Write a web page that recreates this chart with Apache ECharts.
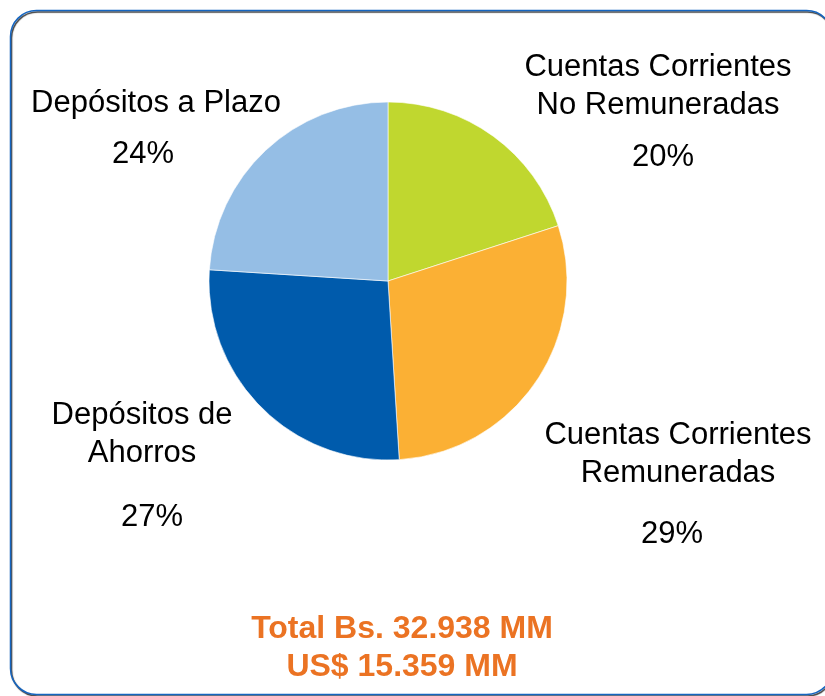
<!DOCTYPE html>
<html>
<head>
<meta charset="utf-8">
<script src="https://cdn.jsdelivr.net/npm/echarts@6/dist/echarts.min.js"></script>
<style>
  html, body { margin: 0; padding: 0; background: #fff; }
  #chart { width: 825px; height: 696px; }
</style>
</head>
<body>
<div id="chart"></div>
<script>
// datos del grafico
var categories = ['Cuentas Corrientes\nNo Remuneradas', 'Cuentas Corrientes\nRemuneradas', 'Depósitos de\nAhorros', 'Depósitos a Plazo']
var shares = [20, 29, 27, 24]
var totalLines = ['Total Bs. 32.938 MM', 'US$ 15.359 MM']

var colors = ['#C0D72F', '#FBB034', '#005BAC', '#95BEE5']
// posicion de cada etiqueta (centro x, arriba y), espacio antes del % y desplazamiento x del %
var labelPos = [[658, 45, 28, 5], [678, 408, 46, -6], [142, 387, 52, 10], [156, 81, 26, -13]]

var chart = echarts.init(document.getElementById('chart'))

var data = categories.map(function (c, i) {
    var dx = labelPos[i][3]
    return {
        name: c,
        value: shares[i],
        itemStyle: { color: colors[i] },
        label: {
            rich: {
                n: { fontSize: 31, lineHeight: 38, color: '#000', fontFamily: 'Liberation Sans, Arial' },
                p: {
                    fontSize: 31, lineHeight: 38, color: '#000', fontFamily: 'Liberation Sans, Arial',
                    padding: [labelPos[i][2], dx < 0 ? -2 * dx : 0, 0, dx > 0 ? 2 * dx : 0]
                }
            }
        }
    }
})

chart.setOption({
    animation: false,
    title: {
        text: totalLines.join('\n'),
        left: 397,
        top: 605,
        textAlign: 'center',
        textStyle: {
            color: '#EB7323',
            fontSize: 32,
            fontWeight: 'bold',
            lineHeight: 38,
            fontFamily: 'Liberation Sans, Arial'
        }
    },
    graphic: [{
        type: 'rect',
        shape: { x: 10.5, y: 10.5, width: 822, height: 684, r: 26 },
        style: {
            fill: 'none',
            stroke: '#1565C0',
            lineWidth: 1.5,
            shadowColor: 'rgba(0,0,0,0.8)',
            shadowOffsetX: 1,
            shadowOffsetY: 1.5,
            shadowBlur: 1
        },
        z: -1
    }],
    series: [{
        type: 'pie',
        center: [388, 281],
        radius: 179,
        startAngle: 90,
        clockwise: true,
        itemStyle: { borderColor: '#fff', borderWidth: 0.6 },
        label: {
            show: true,
            overflow: 'none',
            formatter: function (p) {
                var lines = p.name.split('\n').map(function (l) { return '{n|' + l + '}' })
                return lines.join('\n') + '\n{p|' + p.value + '%}'
            },
            align: 'center'
        },
        labelLine: { show: false },
        labelLayout: function (params) {
            var pos = labelPos[params.dataIndex]
            return {
                x: pos[0],
                y: pos[1] + params.labelRect.height / 2,
                align: 'center',
                verticalAlign: 'middle'
            }
        },
        data: data
    }]
})
</script>
</body>
</html>
